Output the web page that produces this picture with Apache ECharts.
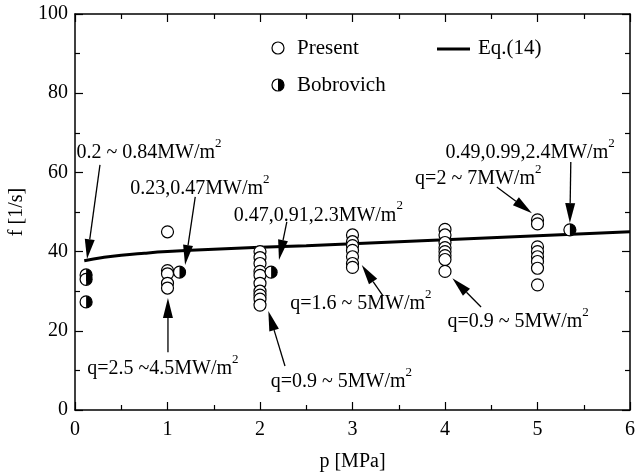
<!DOCTYPE html>
<html>
<head>
<meta charset="utf-8">
<script src="https://cdn.jsdelivr.net/npm/echarts@6/dist/echarts.min.js"></script>
<style>
  html, body { margin: 0; padding: 0; background: #fff; }
  #chart { width: 635px; height: 473px; }
</style>
</head>
<body>
<div id="chart"></div>
<script>
// Present data: [p (MPa), f (1/s)]
const presentData = [
  [1, 45.0], [1, 35.2], [1, 34.4], [1, 32.0], [1, 30.8],
  [2, 40.0], [2, 38.5], [2, 37.0], [2, 35.0], [2, 34.0], [2, 32.0], [2, 30.0], [2, 29.0], [2, 28.0], [2, 26.5],
  [3, 44.2], [3, 42.5], [3, 41.5], [3, 40.3], [3, 38.7], [3, 37.0], [3, 36.0],
  [4, 45.6], [4, 44.2], [4, 42.3], [4, 41.0], [4, 40.0], [4, 39.0], [4, 38.0], [4, 35.0],
  [5, 48.0], [5, 47.0], [5, 41.2], [5, 40.0], [5, 38.7], [5, 37.5], [5, 35.8], [5, 31.6]
];

// Bobrovich data
const bobrovichData = [
  [0.12, 34.1], [0.12, 33.0], [0.12, 27.3],
  [1.13, 34.8], [2.12, 34.8], [5.35, 45.5]
];

// Eq.(14) curve
const eqP = [0.1, 0.3, 0.5, 0.75, 1, 1.5, 2, 2.5, 3, 3.5, 4, 4.5, 5, 5.5, 6];
const eqF = [37.7, 38.5, 39.1, 39.6, 40.0, 40.6, 41.1, 41.5, 42.0, 42.5, 43.0, 43.5, 44.0, 44.5, 45.0];

const xTicks = [0, 1, 2, 3, 4, 5, 6];
const yTicks = [0, 20, 40, 60, 80, 100];

// annotations: label centre and arrow (tail, tip) in data units
const notes = [
  { text: '0.2 ~ 0.84MW/m', at: [0.80, 65.7], from: [0.27, 61.9], to: [0.13, 38.1] },
  { text: '0.23,0.47MW/m', at: [1.35, 56.6], from: [1.30, 53.8], to: [1.19, 36.6] },
  { text: '0.47,0.91,2.3MW/m', at: [2.63, 49.9], from: [2.29, 47.5], to: [2.205, 37.9] },
  { text: '0.49,0.99,2.4MW/m', at: [4.92, 65.7], from: [5.36, 62.6], to: [5.35, 47.2] },
  { text: 'q=2 ~ 7MW/m', at: [4.36, 59.1], from: [4.56, 56.3], to: [4.94, 49.7] },
  { text: 'q=2.5 ~4.5MW/m', at: [0.95, 11.1], from: [1.005, 14.6], to: [1.005, 28.3] },
  { text: 'q=0.9 ~ 5MW/m', at: [2.88, 7.8], from: [2.27, 11.1], to: [2.09, 25.0] },
  { text: 'q=1.6 ~ 5MW/m', at: [3.09, 27.5], from: [3.33, 28.8], to: [3.10, 36.6] },
  { text: 'q=0.9 ~ 5MW/m', at: [4.79, 23.0], from: [4.39, 26.0], to: [4.08, 33.3] }
];

const FONT = '"Liberation Serif", "DejaVu Serif", serif';
const chart = echarts.init(document.getElementById('chart'));

function axisStyle(extra) {
  return Object.assign({
    axisLine: { show: true, onZero: false, lineStyle: { color: '#000', width: 1.5 } },
    axisTick: { show: true, inside: true, length: 8, lineStyle: { color: '#000', width: 1.2 } },
    minorTick: { show: true, splitNumber: 2, length: 5, lineStyle: { color: '#000', width: 1.2 } },
    splitLine: { show: false }
  }, extra);
}

const halfSymbol = 'path://M0,0 A10,10 0 0,1 0,20 Z';

chart.setOption({
  animation: false,
  grid: { left: 75, right: 5, top: 14, bottom: 63, outerBoundsMode: 'none', containLabel: false },
  xAxis: [
    axisStyle({
      type: 'value', min: 0, max: 6, interval: 1, position: 'bottom',
      name: 'p [MPa]', nameLocation: 'middle', nameGap: 42,
      nameTextStyle: { fontFamily: FONT, fontSize: 20, color: '#000' },
      axisLabel: {
        fontFamily: FONT, fontSize: 20, color: '#000', margin: 10,
        formatter: v => xTicks.includes(v) ? String(v) : ''
      }
    }),
    axisStyle({
      type: 'value', min: 0, max: 6, interval: 1, position: 'top',
      axisLabel: { show: false }
    })
  ],
  yAxis: [
    axisStyle({
      type: 'value', min: 0, max: 100, interval: 20, position: 'left',
      name: 'f [1/s]', nameLocation: 'middle', nameGap: 47,
      nameTextStyle: { fontFamily: FONT, fontSize: 20, color: '#000' },
      axisLabel: {
        fontFamily: FONT, fontSize: 20, color: '#000', margin: 7,
        formatter: v => yTicks.includes(v) ? String(v) : ''
      }
    }),
    axisStyle({
      type: 'value', min: 0, max: 100, interval: 20, position: 'right',
      axisLabel: { show: false }
    })
  ],
  series: [
    {
      name: 'Eq.(14)', type: 'line', smooth: true, showSymbol: false,
      data: eqP.map((p, i) => [p, eqF[i]]),
      lineStyle: { color: '#000', width: 3 }, z: 2
    },
    {
      name: 'Present', type: 'scatter', data: presentData,
      symbol: 'circle', symbolSize: 12,
      itemStyle: { color: '#fff', borderColor: '#000', borderWidth: 1.2, opacity: 1 }, z: 3
    },
    {
      name: 'Bobrovich', type: 'scatter', data: bobrovichData,
      symbol: 'circle', symbolSize: 12,
      itemStyle: { color: '#fff', borderColor: '#000', borderWidth: 1.2, opacity: 1 }, z: 4
    },
    {
      name: 'Bobrovich fill', type: 'scatter', data: bobrovichData,
      symbol: halfSymbol, symbolSize: [6, 12], symbolOffset: [3, 0],
      itemStyle: { color: '#000', opacity: 1 }, z: 5
    }
  ]
});

function textEl(x, y, text, size) {
  return {
    type: 'text', x: x, y: y, z: 10,
    style: {
      text: text, fontFamily: FONT, fontSize: size, fill: '#000',
      align: 'left', verticalAlign: 'middle'
    }
  };
}

function supText(x, y, base) {
  return {
    type: 'text', x: x, y: y, z: 10,
    style: {
      text: '{b|' + base + '}{s|2}',
      align: 'center', verticalAlign: 'middle',
      rich: {
        b: { fontFamily: FONT, fontSize: 20, fill: '#000', lineHeight: 26, verticalAlign: 'bottom' },
        s: { fontFamily: FONT, fontSize: 13, fill: '#000', lineHeight: 26, verticalAlign: 'top' }
      }
    }
  };
}

function arrowEls(a, b) {
  const dx = b[0] - a[0], dy = b[1] - a[1];
  const len = Math.sqrt(dx * dx + dy * dy);
  const ux = dx / len, uy = dy / len;
  const headLen = 20, headW = 5;
  const bx = b[0] - ux * headLen, by = b[1] - uy * headLen;
  return [
    { type: 'line', z: 9, shape: { x1: a[0], y1: a[1], x2: bx, y2: by }, style: { stroke: '#000', lineWidth: 1.3 } },
    {
      type: 'polygon', z: 9,
      shape: { points: [[b[0], b[1]], [bx - uy * headW, by + ux * headW], [bx + uy * headW, by - ux * headW]] },
      style: { fill: '#000' }
    }
  ];
}

const graphics = [];
notes.forEach(n => {
  const at = chart.convertToPixel({ gridIndex: 0 }, n.at);
  const from = chart.convertToPixel({ gridIndex: 0 }, n.from);
  const to = chart.convertToPixel({ gridIndex: 0 }, n.to);
  graphics.push(supText(at[0], at[1], n.text));
  arrowEls(from, to).forEach(g => graphics.push(g));
});

// legend
graphics.push({ type: 'circle', z: 10, shape: { cx: 278, cy: 48, r: 6 }, style: { fill: '#fff', stroke: '#000', lineWidth: 1.2 } });
graphics.push(textEl(297, 48, 'Present', 21));
graphics.push({ type: 'circle', z: 10, shape: { cx: 278, cy: 85, r: 6 }, style: { fill: '#fff', stroke: '#000', lineWidth: 1.2 } });
graphics.push({ type: 'sector', z: 11, shape: { cx: 278, cy: 85, r0: 0, r: 6, startAngle: -Math.PI / 2, endAngle: Math.PI / 2 }, style: { fill: '#000' } });
graphics.push(textEl(297, 85, 'Bobrovich', 21));
graphics.push({ type: 'line', z: 10, shape: { x1: 437, y1: 49, x2: 470, y2: 49 }, style: { stroke: '#000', lineWidth: 3 } });
graphics.push(textEl(478, 48, 'Eq.(14)', 21));

chart.setOption({ graphic: graphics });
</script>
</body>
</html>
